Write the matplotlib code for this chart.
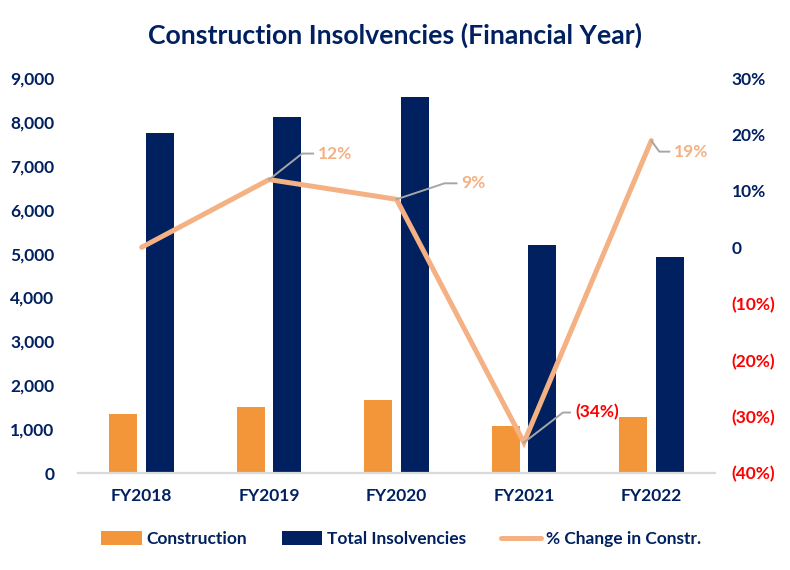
import matplotlib
matplotlib.use("Agg")
import matplotlib.pyplot as plt
import matplotlib.transforms as mtransforms
from matplotlib.patches import Patch
from matplotlib.lines import Line2D
import numpy as np

categories = ["FY2018", "FY2019", "FY2020", "FY2021", "FY2022"]
construction = [1345, 1505, 1665, 1075, 1280]
total_insolvencies = [7745, 8110, 8565, 5195, 4920]
pct_change = [0.0, 12.0, 8.5, -34.6, 18.9]
pct_labels = [None, "12%", "9%", "(34%)", "19%"]

NAVY = "#002060"
ORANGE = "#F39539"
LIGHT = "#F4B183"
RED = "#FF0000"
GREY = "#A6A6A6"
FONT = "Lato"

plt.rcParams["font.family"] = [FONT, "DejaVu Sans"]

fig = plt.figure(figsize=(7.9, 5.7), dpi=100)
ax = fig.add_axes([78/790, 97/570, (715-78)/790, (473-78)/570])
ax2 = ax.twinx()

x = np.arange(len(categories))
w = 0.22
off = 0.143
ax.bar(x - off, construction, width=w, color=ORANGE, zorder=2)
ax.bar(x + off, total_insolvencies, width=w, color=NAVY, zorder=2)
ax.set_xlim(-0.5, len(categories) - 0.5)
ax.set_ylim(0, 9000)
ax.set_yticks(np.arange(0, 9001, 1000))
ax.set_yticklabels([f"{v:,}" for v in range(0, 9001, 1000)])
ax.set_xticks(x)
ax.set_xticklabels(categories)

ax2.plot(x, pct_change, color=LIGHT, lw=3.6, solid_capstyle="round",
         solid_joinstyle="miter", zorder=3)
ax2.set_ylim(-40, 30)
rt = np.arange(-40, 31, 10)
ax2.set_yticks(rt)
def pfmt(v):
    if v == 0:
        return "0"
    if v < 0:
        return f"({abs(v)}%)"
    return f"{v}%"
ax2.set_yticklabels([pfmt(v) for v in rt])
for lab, v in zip(ax2.get_yticklabels(), rt):
    lab.set_color(RED if v < 0 else NAVY)

for a in (ax, ax2):
    for s in a.spines.values():
        s.set_visible(False)
ax.spines["bottom"].set_visible(True)
ax.spines["bottom"].set_color("#D9D9D9")
ax.spines["bottom"].set_linewidth(1.6)

ax.tick_params(axis="y", length=0, pad=17, labelsize=12.5, labelcolor=NAVY)
ax.tick_params(axis="x", length=0, pad=11, labelsize=12.5, labelcolor=NAVY)
ax2.tick_params(axis="y", length=0, pad=12, labelsize=12.5)
for lab in ax.get_yticklabels() + ax.get_xticklabels() + ax2.get_yticklabels():
    lab.set_fontweight("bold")

# leader lines and labels (offsets in pixels at 100 dpi -> inches)
offsets = [None, (33, 26, 11), (48, 16, 12), (39, 30, 7), (8, -11, 10)]
for i, (lbl, o) in enumerate(zip(pct_labels, offsets)):
    if lbl is None:
        continue
    dx, dy, h = o
    tr = fig.dpi_scale_trans + mtransforms.ScaledTranslation(x[i], pct_change[i], ax2.transData)
    ax2.add_line(Line2D([0, dx/100, (dx+h)/100], [0, dy/100, dy/100],
                        transform=tr, color=GREY, lw=1.4, zorder=4, clip_on=False))
    ax2.annotate(lbl, xy=(x[i], pct_change[i]), xytext=((dx+h+5)*0.72, dy*0.72),
                 textcoords="offset points", ha="left", va="center",
                 fontsize=12.5, fontweight="bold",
                 color=RED if pct_change[i] < 0 else LIGHT, zorder=5)

fig.text(395/790, 1 - 35/570, "Construction Insolvencies (Financial Year)",
         ha="center", va="center", fontsize=19.2, fontweight="bold", color=NAVY)

handles = [Patch(facecolor=ORANGE), Patch(facecolor=NAVY),
           Line2D([0], [0], color=LIGHT, lw=3.6, solid_capstyle="round")]
fig.legend(handles, ["Construction", "Total Insolvencies", "% Change in Constr."],
           loc="center", bbox_to_anchor=(401/790, 1 - 539/570), ncol=3,
           frameon=False, prop={"family": FONT, "weight": "bold", "size": 12.5},
           labelcolor=NAVY, handlelength=2.35, handleheight=0.9, columnspacing=2.0,
           handletextpad=0.25)

fig.savefig("out.png", dpi=100)
